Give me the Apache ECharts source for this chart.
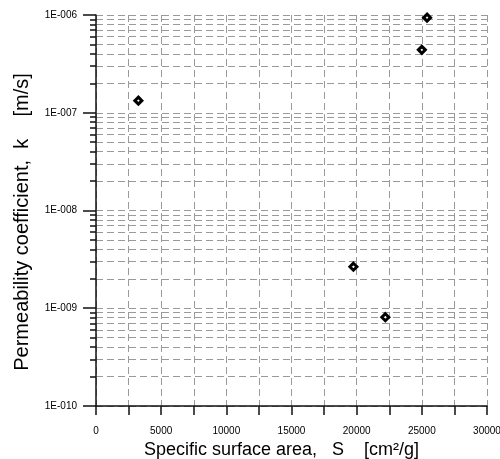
<!DOCTYPE html>
<html>
<head>
<meta charset="utf-8">
<script src="https://cdn.jsdelivr.net/npm/echarts@6/dist/echarts.min.js"></script>
<style>html,body{margin:0;padding:0;background:#fff}#c{width:500px;height:459px}</style>
</head>
<body>
<div id="c"></div>
<script>
// Data
var surfaceArea = [3250, 25400, 25000, 19750, 22200];
var permeability = [1.33e-7, 9.4e-7, 4.4e-7, 2.66e-9, 8.1e-10];
var yTickLabels = ['1E-010', '1E-009', '1E-008', '1E-007', '1E-006'];
var xTickLabels = ['0', '5000', '10000', '15000', '20000', '25000', '30000'];
var decades = [1e-10, 1e-9, 1e-8, 1e-7];
var mantissas = [1, 2, 3, 4, 5, 6, 7, 8, 9];

var minorValues = [];
decades.forEach(function (d) {
  mantissas.forEach(function (m) { minorValues.push(Number((m * d).toPrecision(3))); });
});
minorValues.push(1e-6);

var points = surfaceArea.map(function (x, i) { return [x, permeability[i]]; });

var font = 'Liberation Sans, Arial, sans-serif';
var gridDash = { color: '#9a9a9a', width: 1, type: [7, 4] };

var chart = echarts.init(document.getElementById('c'), null, { renderer: 'canvas' });
chart.setOption({
  animation: false,
  backgroundColor: '#fff',
  grid: { left: 96, top: 15, right: 13, bottom: 53, containLabel: false, outerBoundsMode: 'none' },
  xAxis: {
    type: 'value', min: 0, max: 30000, interval: 2500,
    name: 'Specific surface area,   S    [cm\u00B2/g]',
    nameLocation: 'middle', nameGap: 34,
    nameTextStyle: { fontFamily: font, fontSize: 18, color: '#000', padding: [0, 20, 0, 0] },
    axisLine: { show: true, onZero: false, lineStyle: { color: '#111', width: 1.5 } },
    axisTick: { show: true, inside: false, length: 9, lineStyle: { color: '#111', width: 1.5 } },
    axisLabel: {
      margin: 20, fontFamily: font, fontSize: 10, color: '#000', showMinLabel: true, showMaxLabel: true,
      formatter: function (v) { return v % 5000 === 0 ? xTickLabels[v / 5000] : ''; }
    },
    splitLine: { show: true, lineStyle: gridDash }
  },
  yAxis: [{
    type: 'log', logBase: 10, min: 1e-10, max: 1e-6,
    name: 'Permeability coefficient,  k    [m/s]',
    nameLocation: 'middle', nameGap: 64,
    nameTextStyle: { fontFamily: font, fontSize: 20, color: '#000', padding: [0, 23, 0, 0] },
    axisLine: { show: true, onZero: false, lineStyle: { color: '#111', width: 1.5 } },
    axisTick: { show: true, inside: false, length: 13, lineStyle: { color: '#111', width: 1.5 } },
    axisLabel: {
      margin: 19, fontFamily: font, fontSize: 10, color: '#000',
      formatter: function (v) {
        var e = Math.round(Math.log(v) / Math.LN10);
        return yTickLabels[e + 10];
      }
    },
    splitLine: { show: false }
  }, {
    type: 'log', logBase: 10, min: 1e-10, max: 1e-6, position: 'left',
    axisLine: { show: false },
    axisTick: { show: true, inside: false, length: 6, customValues: minorValues, lineStyle: { color: '#111', width: 1.5 } },
    axisLabel: { show: false },
    splitLine: { show: true, lineStyle: gridDash }
  }],
  series: [{
    type: 'scatter', xAxisIndex: 0, yAxisIndex: 0,
    data: points,
    symbol: 'diamond', symbolSize: 7,
    itemStyle: { color: '#fff', borderColor: '#000', borderWidth: 3, opacity: 1 },
    z: 10
  }]
});
</script>
</body>
</html>
